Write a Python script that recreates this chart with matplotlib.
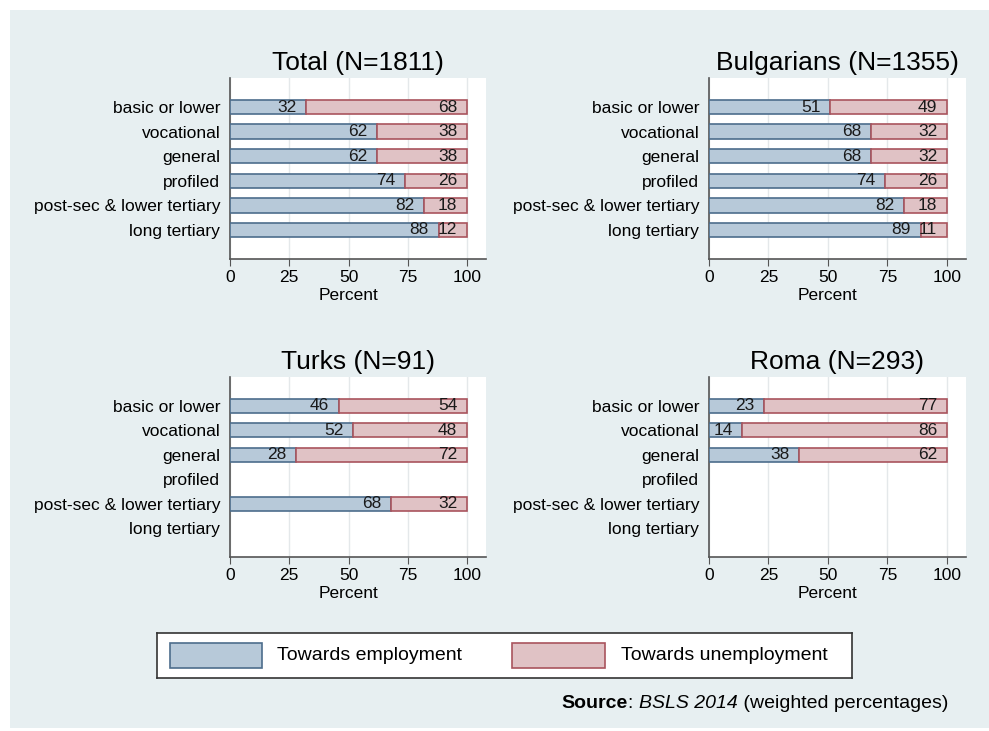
import matplotlib
matplotlib.use("Agg")
import matplotlib.pyplot as plt
import matplotlib.patches as mpatches
import numpy as np

plt.rcParams['font.family'] = ['Liberation Sans', 'DejaVu Sans']

# data
categories = ["basic or lower", "vocational", "general", "profiled",
              "post-sec & lower tertiary", "long tertiary"]
titles = ["Total (N=1811)", "Bulgarians (N=1355)", "Turks (N=91)", "Roma (N=293)"]
nan = np.nan
employment = [
    [32, 62, 62, 74, 82, 88],
    [51, 68, 68, 74, 82, 89],
    [46, 52, 28, nan, 68, nan],
    [23, 14, 38, nan, nan, nan],
]
unemployment = [
    [68, 38, 38, 26, 18, 12],
    [49, 32, 32, 26, 18, 11],
    [54, 48, 72, nan, 32, nan],
    [77, 86, 62, nan, nan, nan],
]
xticks = [0, 25, 50, 75, 100]
legend_labels = ["Towards employment", "Towards unemployment"]

blue_fc, blue_ec = "#b7c9d9", "#4d6d8c"
red_fc, red_ec = "#e0c2c5", "#a9545d"
bg = "#e7eff1"

W, H = 989, 731
fig = plt.figure(figsize=(W / 100, H / 100), dpi=100, facecolor="white")
fig.patches.append(mpatches.Rectangle((10 / W, 1 - 728 / H), 1 - 10 / W, (728 - 10) / H,
                                      transform=fig.transFigure, facecolor=bg,
                                      edgecolor="none", zorder=-10))

# axes boxes in pixels: left, top, right, bottom
boxes = [(230, 78, 486, 259), (709, 78, 966, 259),
         (230, 377, 486, 557), (709, 377, 966, 557)]

ypos = np.arange(len(categories))
for k, (l, t, r, b) in enumerate(boxes):
    ax = fig.add_axes([l / W, 1 - b / H, (r - l) / W, (b - t) / H])
    ax.set_facecolor("white")
    emp = np.array(employment[k], dtype=float)
    une = np.array(unemployment[k], dtype=float)
    ok = ~np.isnan(emp)
    ax.barh(ypos[ok], emp[ok], height=0.58, color=blue_fc, edgecolor=blue_ec, linewidth=1.2, zorder=3)
    ax.barh(ypos[ok], une[ok], left=emp[ok], height=0.58, color=red_fc, edgecolor=red_ec,
            linewidth=1.2, zorder=3)
    for i in ypos[ok]:
        ax.annotate(f"{int(emp[i])}", (emp[i], i), xytext=(-7, 0), textcoords="offset points",
                    ha="right", va="center", fontsize=12.5, color="#1a1a1a", zorder=4)
        ax.annotate(f"{int(une[i])}", (emp[i] + une[i], i), xytext=(-7, 0), textcoords="offset points",
                    ha="right", va="center", fontsize=12.5, color="#1a1a1a", zorder=4)
    ax.set_xlim(0, 108)
    ax.set_ylim(len(categories) - 1 + 1.18, -1.18)
    ax.set_yticks(ypos)
    ax.set_yticklabels(categories, fontsize=12.5)
    ax.tick_params(axis="y", length=0, pad=7)
    ax.set_xticks(xticks)
    ax.set_xticklabels([str(v) for v in xticks], fontsize=12.5)
    ax.tick_params(axis="x", length=5, color="#555555", pad=3)
    ax.grid(axis="x", color="#e4e8ea", linewidth=1, zorder=0)
    for s in ["top", "right"]:
        ax.spines[s].set_visible(False)
    for s in ["left", "bottom"]:
        ax.spines[s].set_color("#555555")
        ax.spines[s].set_linewidth(1.2)
    ax.set_xlabel("Percent", fontsize=12.5)
    ax.xaxis.set_label_coords(50 / 108, -0.16)
    ax.set_title(titles[k], fontsize=19, pad=6)

# legend box
lax = fig.add_axes([157 / W, 1 - 678 / H, (852 - 157) / W, (678 - 633) / H])
lax.set_xlim(157, 852)
lax.set_ylim(678, 633)
lax.set_xticks([])
lax.set_yticks([])
lax.set_facecolor("white")
for s in lax.spines.values():
    s.set_color("#333333")
    s.set_linewidth(1.2)
lax.add_patch(mpatches.Rectangle((170, 643), 92, 25, facecolor=blue_fc, edgecolor=blue_ec, linewidth=1.2))
lax.add_patch(mpatches.Rectangle((512, 643), 93, 25, facecolor=red_fc, edgecolor=red_ec, linewidth=1.2))
lax.text(277, 656, legend_labels[0], fontsize=14, va="center", ha="left")
lax.text(621, 656, legend_labels[1], fontsize=14, va="center", ha="left")

# source line, built from right to left
pieces = [("Source", "bold", "normal"), (": ", "normal", "normal"),
          ("BSLS 2014", "normal", "italic"), (" (weighted percentages)", "normal", "normal")]
fig.canvas.draw()
renderer = fig.canvas.get_renderer()
x = 948 / W
y = 1 - 703 / H
for txt, wt, st in reversed(pieces):
    t = fig.text(x, y, txt, fontsize=14, fontweight=wt, fontstyle=st, ha="right", va="center")
    bb = t.get_window_extent(renderer)
    x = x - bb.width / W

fig.savefig("out.png", dpi=100, facecolor="white")
